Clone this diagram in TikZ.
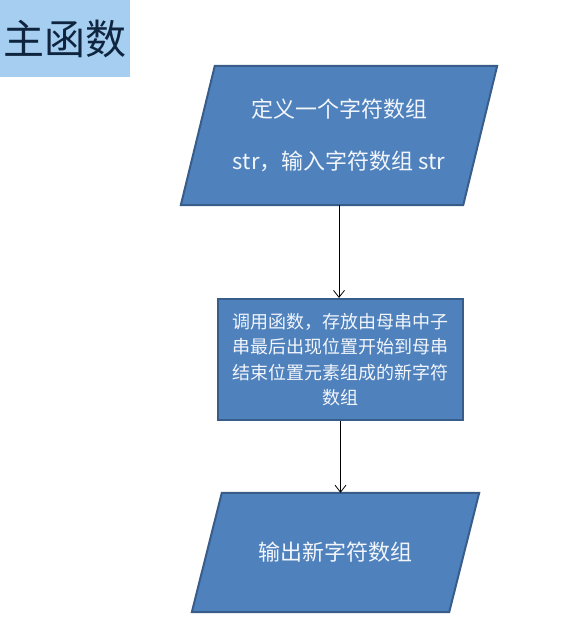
\documentclass[tikz,border=0pt]{standalone}
\usepackage{fontspec}
\newfontfamily\cjk{Noto Sans CJK SC}
\usetikzlibrary{arrows.meta,backgrounds}

\definecolor{boxfill}{HTML}{4F81BD}
\definecolor{boxline}{HTML}{385D8A}
\definecolor{titlefill}{HTML}{A6CEF0}
\definecolor{titletext}{HTML}{0F243E}
\definecolor{boxtext}{HTML}{F2F6FB}

\begin{document}
\begin{tikzpicture}[
        x=1pt, y=-1pt,
        % 輸入輸出:文字框 (外形另畫平行四邊形)
        io_box/.style={
            rectangle,
            text=boxtext,
            align=center,
            inner sep=0pt,
            font=\cjk\fontsize{22}{52}\selectfont
        },
        % 平行四邊形外形
        io_shape/.style={
            draw=boxline,
            fill=boxfill,
            line width=2pt,
            line join=miter
        },
        % 處理步驟:矩形
        process_box/.style={
            rectangle,
            draw=boxline,
            fill=boxfill,
            line width=2pt,
            text=boxtext,
            align=center,
            inner sep=0pt,
            minimum width=245pt,
            minimum height=121pt,
            font=\cjk\fontsize{18}{25.5}\selectfont
        },
        % 標題框
        title_box/.style={
            rectangle,
            fill=titlefill,
            text=titletext,
            inner sep=0pt,
            minimum width=130pt,
            minimum height=77pt,
            font=\cjk\fontsize{41}{44}\selectfont
        },
        % 連接箭頭
        flow_arrow/.style={
            draw=black,
            line width=0.8pt,
            -{Straight Barb[length=7pt,width=11pt]}
        }
    ]
        \useasboundingbox (0,0) rectangle (574,639);

        % ==========================
        % 標題
        % ==========================
        \node[title_box] (title) at (65,38.5) {主函数};

        % ==========================
        % 流程節點
        % ==========================
        \node[io_box, minimum width=282pt, minimum height=139pt] (input) at (339,135.5)
            {定义一个字符数组\\str，输入字符数组 str};
        \node[process_box] (proc) at (340.5,359.5)
            {调用函数，存放由母串中子\\串最后出现位置开始到母串\\结束位置元素组成的新字符\\数组};
        \node[io_box, minimum width=257pt, minimum height=119pt] (output) at (335.5,552.5)
            {输出新字符数组};

        % 平行四邊形 (放在文字下層)
        \begin{scope}[on background layer]
            \foreach \n/\s in {input/17, output/15} {
                \draw[io_shape] ([xshift=\s]\n.north west) -- ([xshift=\s]\n.north east)
                    -- ([xshift=-\s]\n.south east) -- ([xshift=-\s]\n.south west) -- cycle;
            }
        \end{scope}

        % ==========================
        % 箭頭
        % ==========================
        \draw[flow_arrow] (input.south) -- (input.south |- proc.north);
        \draw[flow_arrow] (proc.south) -- (proc.south |- output.north);
\end{tikzpicture}
\end{document}
